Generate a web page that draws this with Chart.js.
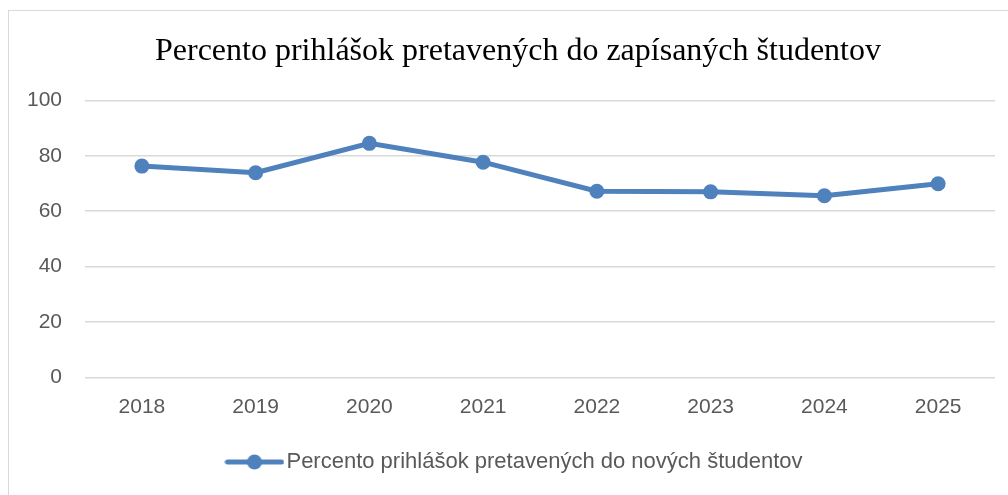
<!DOCTYPE html>
<html>
<head>
<meta charset="utf-8">
<script src="https://cdn.jsdelivr.net/npm/chart.js@4.4.1/dist/chart.umd.min.js"></script>
<style>
  html, body { margin: 0; padding: 0; background: #fff; overflow: hidden; }
  #wrap { position: relative; width: 1008px; height: 495px; }
  #frame { position: absolute; left: 8px; top: 10px; width: 1100px; height: 600px; border: 1px solid #d9d9d9; pointer-events: none; }
  canvas { position: absolute; left: 0; top: 0; }
</style>
</head>
<body>
<div id="wrap">
  <canvas id="c" width="1008" height="495"></canvas>
  <div id="frame"></div>
</div>
<script>
const titleText = 'Percento prihlášok pretavených do zapísaných študentov';
const seriesLabel = 'Percento prihlášok pretavených do nových študentov';
const categories = ['2018', '2019', '2020', '2021', '2022', '2023', '2024', '2025'];
const values = [76.3, 73.9, 84.5, 77.7, 67.2, 67.0, 65.6, 69.9];
const yTicks = [0, 20, 40, 60, 80, 100];

const lineColor = '#4f81bd';

// legend symbol: line with a circle marker
const sym = document.createElement('canvas');
sym.width = 60; sym.height = 18;
(function () {
  const g = sym.getContext('2d');
  g.strokeStyle = lineColor; g.lineWidth = 5; g.lineCap = 'round';
  g.beginPath(); g.moveTo(3, 9); g.lineTo(57, 9); g.stroke();
  g.fillStyle = lineColor;
  g.beginPath(); g.arc(30, 9, 7.5, 0, Math.PI * 2); g.fill();
})();

const tickFont = { family: "'Liberation Sans', Arial, sans-serif", size: 21 };
const legendFont = { family: "'Liberation Sans', Arial, sans-serif", size: 22 };

new Chart(document.getElementById('c'), {
  type: 'line',
  data: {
    labels: categories,
    datasets: [{
      label: seriesLabel,
      data: values,
      borderColor: lineColor,
      backgroundColor: lineColor,
      borderWidth: 5,
      pointRadius: 7.5,
      pointHoverRadius: 7.5,
      pointBackgroundColor: lineColor,
      pointBorderWidth: 0,
      tension: 0
    }]
  },
  options: {
    responsive: false,
    animation: false,
    devicePixelRatio: 1,
    layout: { padding: { left: 41, right: 13, top: 0, bottom: 12 } },
    plugins: {
      title: {
        display: true,
        text: titleText,
        color: '#000',
        font: { family: "'Liberation Serif', 'Times New Roman', serif", size: 32, weight: 'normal' },
        padding: { top: 32, bottom: 30 }
      },
      legend: {
        position: 'bottom',
        labels: {
          usePointStyle: true,
          pointStyleWidth: 42,
          color: '#595959',
          font: legendFont,
          padding: 10,
          generateLabels: function (chart) {
            const items = Chart.defaults.plugins.legend.labels.generateLabels(chart);
            items.forEach(function (it) { it.pointStyle = sym; });
            return items;
          }
        }
      },
      tooltip: { enabled: false }
    },
    scales: {
      x: {
        offset: true,
        grid: { display: false, drawTicks: false },
        border: { display: false },
        ticks: { color: '#595959', font: tickFont, padding: 17, maxRotation: 0 },
        afterFit: function (s) { s.height = 63.5; }
      },
      y: {
        min: 0,
        max: 100,
        afterBuildTicks: function (s) { s.ticks = yTicks.map(function (v) { return { value: v }; }); },
        grid: { color: '#d9d9d9', lineWidth: 1.5, drawTicks: false },
        border: { display: false },
        ticks: { color: '#595959', font: tickFont, padding: 23 },
        afterFit: function (s) {
          s.width = 44;
          s._computeLabelArea = function () { return undefined; };
        }
      }
    }
  }
});
</script>
</body>
</html>
